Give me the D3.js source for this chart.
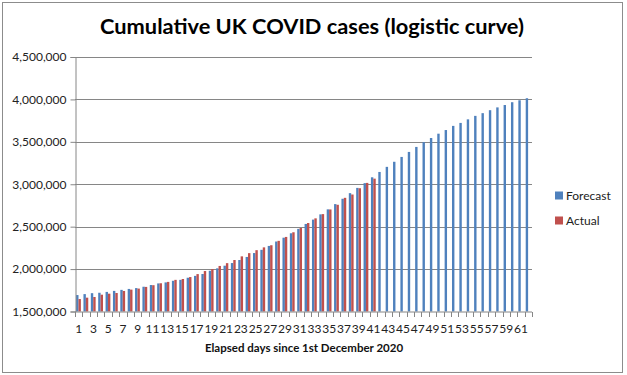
<!DOCTYPE html>
<html><head><meta charset="utf-8">
<script src="https://cdn.jsdelivr.net/npm/d3@7"></script>
<style>
html,body{margin:0;padding:0;background:#fff;}
svg{display:block;font-family:Lato,"Open Sans",sans-serif;}
</style></head>
<body>
<script>
const days = d3.range(1, 63);
const forecast = [1694000,1705000,1716000,1721000,1731000,1743000,1755000,1766000,1776000,1792000,1812000,1831000,1843000,1862000,1873000,1898000,1920000,1942000,1980000,2009000,2040000,2071000,2107000,2143000,2189000,2227000,2273000,2325000,2370000,2422000,2474000,2532000,2583000,2645000,2704000,2766000,2829000,2895000,2957000,3013000,3082000,3145000,3205000,3265000,3322000,3381000,3440000,3496000,3545000,3596000,3639000,3688000,3723000,3765000,3806000,3838000,3873000,3906000,3934000,3967000,3990000,4014000];
const actual = [1647000,1663000,1671000,1698000,1710000,1718000,1742000,1758000,1770000,1790000,1810000,1833000,1849000,1873000,1883000,1906000,1941000,1977000,2000000,2037000,2070000,2107000,2150000,2188000,2223000,2256000,2281000,2333000,2379000,2434000,2484000,2543000,2598000,2648000,2703000,2758000,2840000,2879000,2953000,3016000,3066000];
const yTicks = [1500000,2000000,2500000,3000000,3500000,4000000,4500000];
const seriesNames = ["Forecast","Actual"];
const colors = ["#4F81BD","#C0504D"];

const W = 627, H = 375;
const svg = d3.select("body").append("svg").attr("width", W).attr("height", H);
svg.append("rect").attr("x",2.5).attr("y",2.5).attr("width",620).attr("height",370)
  .attr("fill","#fff").attr("stroke","#8c8c8c").attr("stroke-width",1);

const L = 75, R = 532, T = 57, B = 311.5;
const x = d3.scaleBand().domain(days).range([L, R]).padding(0);
const y = d3.scaleLinear().domain([1500000, 4500000]).range([B, T]);

// gridlines
svg.append("g").selectAll("line").data(yTicks.slice(1)).join("line")
  .attr("x1", L).attr("x2", R)
  .attr("y1", d => Math.round(y(d)) + 0.5).attr("y2", d => Math.round(y(d)) + 0.5)
  .attr("stroke", "#868686").attr("stroke-width", 1);

// bars
const bw = 2.4;
const data = [forecast, actual];
data.forEach((vals, si) => {
  svg.append("g").selectAll("rect").data(vals).join("rect")
    .attr("x", (d, i) => x(days[i]) + x.bandwidth()/2 - bw + si*bw - 0.2)
    .attr("width", bw)
    .attr("y", d => y(d))
    .attr("height", d => B - y(d))
    .attr("fill", colors[si]);
});

// y axis
const yAxis = d3.axisLeft(y).tickValues(yTicks).tickSize(5).tickPadding(4)
  .tickFormat(d3.format(","));
const gy = svg.append("g").attr("transform", `translate(${L+0.5},0)`).call(yAxis);
gy.selectAll("path.domain").attr("stroke","#868686");
gy.selectAll(".tick line").attr("stroke","#868686");
gy.selectAll(".tick text").attr("font-size", 12).attr("fill","#222").attr("font-family","Lato");

// x axis
const gx = svg.append("g").attr("transform", `translate(0,${B+0.5})`);
gx.append("line").attr("x1", L).attr("x2", R).attr("stroke", "#868686");
gx.selectAll("line.tk").data(d3.range(0, days.length + 1)).join("line")
  .attr("class","tk")
  .attr("x1", i => Math.round(L + i * x.bandwidth()) + 0.5)
  .attr("x2", i => Math.round(L + i * x.bandwidth()) + 0.5)
  .attr("y1", 0).attr("y2", 5).attr("stroke", "#868686");
gx.selectAll("text").data(days.filter(d => d % 2 === 1)).join("text")
  .attr("x", d => x(d) + x.bandwidth()/2)
  .attr("y", 20.5)
  .attr("text-anchor","middle")
  .attr("font-size", 12).attr("fill","#222")
  .text(d => d);

// titles
svg.append("text").attr("x", 312).attr("y", 33.5).attr("text-anchor","middle")
  .attr("font-size", 21).attr("font-weight","bold").attr("fill","#000")
  .attr("textLength", 424).attr("lengthAdjust","spacingAndGlyphs")
  .text("Cumulative UK COVID cases (logistic curve)");
svg.append("text").attr("x", 304).attr("y", 352).attr("text-anchor","middle")
  .attr("font-size", 11.5).attr("font-weight","bold").attr("fill","#111")
  .text("Elapsed days since 1st December 2020");

// legend
const lg = svg.append("g");
seriesNames.forEach((n, i) => {
  const ly = 195.5 + i * 25;
  lg.append("rect").attr("x", 555).attr("y", ly - 4).attr("width", 8).attr("height", 8).attr("fill", colors[i]);
  lg.append("text").attr("x", 566).attr("y", ly + 4.5).attr("font-size", 12).attr("fill","#222").text(n);
});
</script>
</body></html>
